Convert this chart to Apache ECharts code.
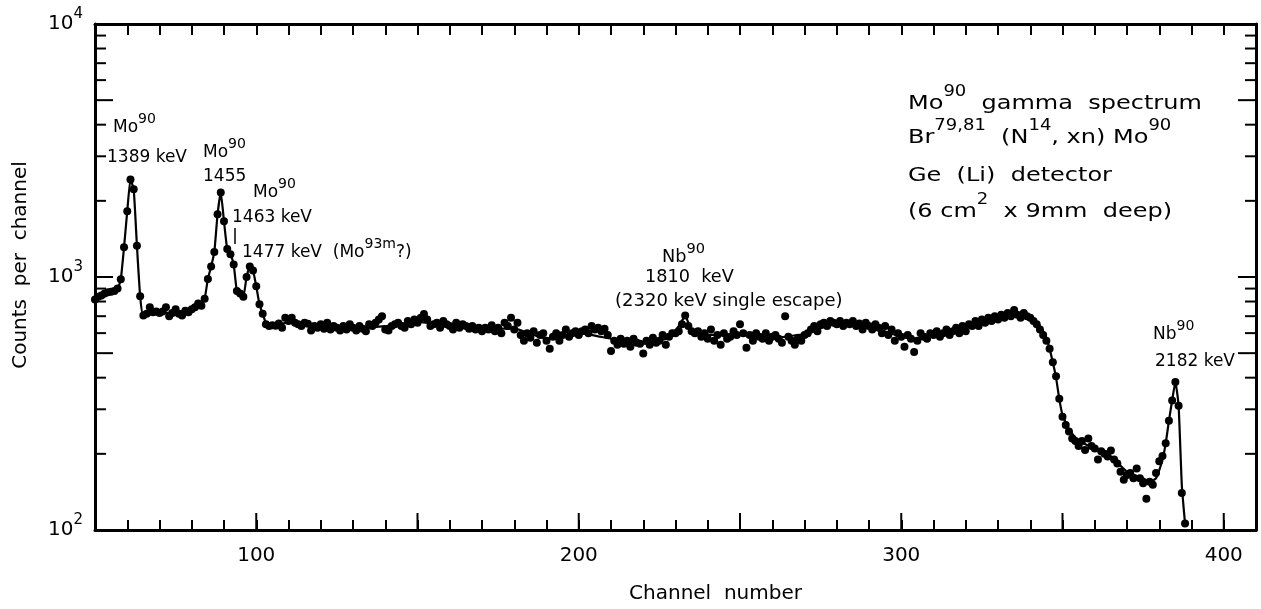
<!DOCTYPE html>
<html><head><meta charset="utf-8">
<script src="https://cdn.jsdelivr.net/npm/echarts@6/dist/echarts.min.js"></script>
<style>html,body{margin:0;padding:0;background:#fff;} #c{width:1261px;height:609px;}</style>
</head><body><div id="c"></div>
<script>
// ---- data ----
const firstChannel = 50;
const counts = [
 815, 835, 845, 860, 870, 875, 880, 900, 980, 1310,
 1820, 2430, 2220, 1330, 840, 705, 715, 760, 725, 730,
 720, 730, 760, 700, 720, 745, 715, 705, 735, 725,
 745, 760, 785, 770, 820, 982, 1100, 1255, 1770, 2160,
 1660, 1290, 1230, 1120, 880, 860, 835, 1000, 1100, 1060,
 920, 780, 715, 650, 640, 645, 642, 655, 630, 690,
 670, 690, 660, 650, 640, 660, 653, 615, 640, 630,
 650, 625, 660, 620, 640, 630, 615, 640, 620, 650,
 630, 615, 640, 625, 610, 650, 640, 660, 680, 700,
 620, 615, 640, 650, 660, 640, 630, 670, 650, 680,
 660, 690, 714, 680, 640, 650, 660, 630, 670, 650,
 640, 620, 660, 630, 650, 640, 625, 640, 620, 630,
 610, 630, 620, 645, 610, 630, 600, 660, 640, 690,
 620, 660, 590, 560, 600, 575, 610, 550, 590, 600,
 560, 521, 580, 600, 560, 590, 620, 580, 600, 610,
 590, 610, 620, 600, 640, 620, 630, 610, 625, 590,
 510, 560, 540, 570, 545, 560, 530, 570, 550, 545,
 498, 560, 540, 575, 550, 560, 590, 540, 580, 600,
 600, 610, 650, 705, 640, 610, 600, 610, 580, 600,
 570, 620, 560, 590, 540, 600, 570, 580, 610, 590,
 650, 600, 525, 590, 560, 600, 580, 570, 600, 560,
 580, 590, 570, 550, 700, 580, 560, 540, 575, 560,
 590, 600, 620, 640, 610, 650, 660, 640, 670, 660,
 650, 670, 640, 660, 650, 670, 640, 655, 620, 660,
 640, 620, 650, 630, 600, 640, 590, 620, 560, 600,
 580, 530, 590, 570, 505, 560, 600, 580, 570, 600,
 590, 610, 580, 600, 620, 590, 610, 630, 600, 640,
 610, 650, 640, 670, 640, 680, 660, 690, 670, 700,
 680, 710, 690, 720, 700, 740, 710, 690, 720, 700,
 690, 670, 650, 620, 590, 560, 520, 460, 405, 330,
 280, 260, 245, 230, 225, 215, 225, 207, 230, 215,
 210, 190, 205, 200, 195, 206, 190, 183, 170, 158,
 165, 168, 160, 175, 160, 153, 133, 155, 151, 168,
 187, 196, 220, 270, 325, 385, 310, 140, 106
];
// hand-drawn guide curve through the points
const curveChannels = [50,54,57,58,59,60,61,62,63,64,65,70,75,80,83,84,85,86,87,88,89,90,91,92,93,94,95,96,97,98,99,100,101,102,103,105,110,120,130,140,150,160,170,180,190,200,210,220,228,231,233,235,240,250,260,270,280,290,300,305,310,320,330,336,340,343,345,346,347,348,349,350,352,355,360,365,370,375,377,379,381,382,383,384,385,386,387,388];
const curveCounts   = [820,860,900,980,1310,1820,2430,2220,1330,840,705,720,725,745,780,820,982,1100,1255,1770,2160,1660,1290,1230,1120,880,860,835,1000,1100,1060,920,780,715,660,645,660,640,630,640,665,645,625,625,570,600,570,545,575,640,700,620,590,590,575,595,655,640,580,570,595,630,690,715,695,640,575,520,460,400,330,285,250,225,210,195,170,160,155,160,190,220,270,325,385,310,150,106];
const xTickLabels = [100, 200, 300, 400];
const xLongTicks = [100, 150, 200, 250, 300, 350, 400];
const yMinorTicks = [200,300,400,500,600,700,800,900,2000,3000,4000,5000,6000,7000,8000,9000];
const yLongMinor = [500, 5000];

const X_MIN = 50, X_MAX = 410, Y_MIN = 100, Y_MAX = 10000;
const FONT = 'DejaVu Sans';

const points = counts.map((v, i) => [firstChannel + i, v]);
const curve = curveChannels.map((c, i) => [c, curveCounts[i]]);

const chart = echarts.init(document.getElementById('c'), null, {renderer: 'canvas'});

const supRich = {
  b: {fontSize: 20, fontFamily: FONT, color: '#000', lineHeight: 34},
  s: {fontSize: 15, fontFamily: FONT, color: '#000', lineHeight: 14, verticalAlign: 'top'}
};

function txt(x, y, text, size, supSize, sx) {
  return {
    type: 'text', x: x, y: y, scaleX: sx || 1, silent: true,
    style: {
      text: text, fontSize: size, fontFamily: FONT, fill: '#000',
      lineHeight: Math.round(size * 1.9), verticalAlign: 'middle', align: 'left',
      rich: { s: {fontSize: supSize, fontFamily: FONT, fill: '#000', lineHeight: supSize, verticalAlign: 'top'} }
    }
  };
}

const axisLine = {show: true, lineStyle: {color: '#000', width: 3}};

chart.setOption({
  animation: false,
  backgroundColor: '#fff',
  grid: {left: 95, right: 5, top: 24, bottom: 76, containLabel: false},
  xAxis: [
    {
      type: 'value', min: X_MIN, max: X_MAX, interval: 10, position: 'bottom',
      axisLine: axisLine,
      axisTick: {show: true, inside: true, length: 10, lineStyle: {color: '#000', width: 2}},
      axisLabel: {
        fontSize: 20, fontFamily: FONT, color: '#000', margin: 16,
        formatter: v => xTickLabels.includes(v) ? String(v) : ''
      },
      splitLine: {show: false},
      name: 'Channel  number', nameLocation: 'middle', nameGap: 54,
      nameTextStyle: {fontSize: 20, fontFamily: FONT, color: '#000', padding: [0, 0, 0, 80]}
    },
    {
      type: 'value', min: X_MIN, max: X_MAX, interval: 10, position: 'top',
      axisLine: axisLine,
      axisTick: {show: true, inside: true, length: 11, lineStyle: {color: '#000', width: 2}},
      axisLabel: {show: false}, splitLine: {show: false}
    }
  ],
  yAxis: [
    {
      type: 'log', logBase: 10, min: Y_MIN, max: Y_MAX, position: 'left',
      axisLine: axisLine,
      axisTick: {show: true, inside: true, length: 18, lineStyle: {color: '#000', width: 2}},
      axisLabel: {
        margin: 12, rich: supRich,
        formatter: v => '{b|10}{s|' + Math.round(Math.log10(v)) + '}'
      },
      splitLine: {show: false},
      name: 'Counts  per  channel', nameLocation: 'middle', nameGap: 64, nameRotate: 90,
      nameTextStyle: {fontSize: 20, fontFamily: FONT, color: '#000', padding: [0, 0, 0, 24]}
    },
    {
      type: 'log', logBase: 10, min: Y_MIN, max: Y_MAX, position: 'right',
      axisLine: axisLine,
      axisTick: {show: true, inside: true, length: 18, lineStyle: {color: '#000', width: 2}},
      axisLabel: {show: false}, splitLine: {show: false}
    }
  ],
  series: [
    {
      name: 'guide curve', type: 'line', data: curve, xAxisIndex: 0, yAxisIndex: 0,
      showSymbol: false, symbol: 'none', smooth: 0.15,
      lineStyle: {color: '#000', width: 2.2}, z: 3, silent: true
    },
    {
      name: 'counts', type: 'scatter', data: points, xAxisIndex: 0, yAxisIndex: 0,
      symbol: 'circle', symbolSize: 8,
      itemStyle: {color: '#000', opacity: 1}, z: 4, silent: true
    },
    {
      name: 'y minor ticks', type: 'custom', xAxisIndex: 0, yAxisIndex: 0, silent: true, z: 5,
      data: yMinorTicks.map(v => [X_MIN, v]),
      renderItem: function (params, api) {
        const v = api.value(1);
        const pL = api.coord([X_MIN, v]);
        const pR = api.coord([X_MAX, v]);
        const len = yLongMinor.indexOf(v) >= 0 ? 18 : 11;
        return {type: 'group', children: [
          {type: 'line', shape: {x1: pL[0], y1: pL[1], x2: pL[0] + len, y2: pL[1]}, style: {stroke: '#000', lineWidth: 2}},
          {type: 'line', shape: {x1: pR[0], y1: pR[1], x2: pR[0] - len, y2: pR[1]}, style: {stroke: '#000', lineWidth: 2}}
        ]};
      }
    },
    {
      name: 'x long ticks', type: 'custom', xAxisIndex: 0, yAxisIndex: 0, silent: true, z: 5,
      data: xLongTicks.map(c => [c, Y_MIN]),
      renderItem: function (params, api) {
        const p = api.coord([api.value(0), Y_MIN]);
        return {type: 'line', shape: {x1: p[0], y1: p[1], x2: p[0], y2: p[1] - 17}, style: {stroke: '#000', lineWidth: 2}};
      }
    }
  ],
  graphic: [
    txt(113, 128, 'Mo{s|90}', 17, 14),
    txt(107, 158, '1389 keV', 17, 14),
    txt(203, 153, 'Mo{s|90}', 17, 14),
    txt(203, 177, '1455', 17, 14),
    txt(253, 193, 'Mo{s|90}', 17, 14),
    txt(232, 218, '1463 keV', 17, 14),
    txt(242, 253, '1477 keV  (Mo{s|93m}?)', 17, 14),
    txt(662, 258, 'Nb{s|90}', 17, 14, 1.04),
    txt(645, 278, '1810  keV', 17, 14, 1.04),
    txt(615, 302, '(2320 keV single escape)', 17, 14, 1.06),
    txt(1153, 335, 'Nb{s|90}', 17, 14),
    txt(1155, 362, '2182 keV', 17, 14),
    txt(908, 104, 'Mo{s|90}  gamma  spectrum', 20, 15, 1.2),
    txt(908, 138, 'Br{s|79,81}  (N{s|14}, xn) Mo{s|90}', 20, 15, 1.2),
    txt(908, 176, 'Ge  (Li)  detector', 20, 15, 1.2),
    txt(908, 212, '(6 cm{s|2}  x 9mm  deep)', 20, 15, 1.2),
    {type: 'line', silent: true, shape: {x1: 235, y1: 228, x2: 235, y2: 244}, style: {stroke: '#000', lineWidth: 1.5}}
  ]
});
</script>
</body></html>
